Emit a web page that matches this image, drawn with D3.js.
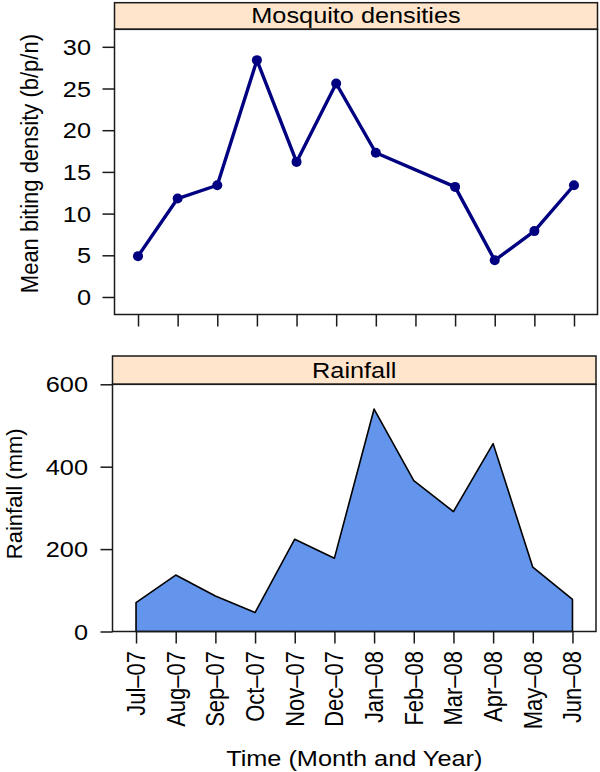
<!DOCTYPE html>
<html>
<head>
<meta charset="utf-8">
<script src="https://cdn.jsdelivr.net/npm/d3@7"></script>
<style>
  html, body { margin: 0; padding: 0; background: #fff; }
  svg { display: block; font-family: "Liberation Sans", Arial, Helvetica, sans-serif; }
</style>
</head>
<body>
<svg id="chart" width="600" height="772"></svg>
<script>
// ---- data ----
const months = ["Jul\u201307", "Aug\u201307", "Sep\u201307", "Oct\u201307", "Nov\u201307", "Dec\u201307",
                "Jan\u201308", "Feb\u201308", "Mar\u201308", "Apr\u201308", "May\u201308", "Jun\u201308"];
const density = [4.9, 11.8, 13.4, 28.4, 16.2, 25.6, 17.3, null, 13.2, 4.4, 7.9, 13.4];
const rainfall = [70, 137, 86, 46, 224, 178, 540, 366, 291, 456, 156, 78];
const densityTicks = [0, 5, 10, 15, 20, 25, 30];
const rainTicks = [0, 200, 400, 600];
const topTitle = "Mosquito densities";
const bottomTitle = "Rainfall";
const topYLabel = "Mean biting density (b/p/n)";
const bottomYLabel = "Rainfall (mm)";
const xLabel = "Time (Month and Year)";

// ---- layout ----
const SX = 1.15; // horizontal stretch of the original text
const svg = d3.select("#chart");
const border = "#1a1a1a";

function stext(g, x, y, str, size, anchor, rot, sx) {
  const s = sx == null ? SX : sx;
  return g.append("text")
    .attr("transform", `translate(${x},${y}) scale(${s},1)` + (rot ? ` rotate(${rot})` : ""))
    .attr("text-anchor", anchor)
    .attr("font-size", size)
    .attr("fill", "#000")
    .text(str);
}

// ---- top panel ----
const P1 = {left: 114.5, right: 597.5, stripTop: 2.7, top: 29.3, bottom: 314.5};
const x1 = d3.scalePoint().domain(months).range([P1.left, P1.right]).padding(0.593);
const y1 = d3.scaleLinear().domain([-2.1, 32.1]).range([P1.bottom, P1.top]);

const g1 = svg.append("g");
g1.append("rect").attr("x", P1.left).attr("y", P1.stripTop)
  .attr("width", P1.right - P1.left).attr("height", P1.top - P1.stripTop)
  .attr("fill", "#ffe5cc").attr("stroke", border).attr("stroke-width", 1.5);
stext(g1, (P1.left + P1.right) / 2, P1.top - 6.5, topTitle, 22, "middle");

const pts = months.map((m, i) => ({m, v: density[i]})).filter(d => d.v != null);
g1.append("path").datum(pts)
  .attr("fill", "none").attr("stroke", "#000080").attr("stroke-width", 3.4)
  .attr("stroke-linejoin", "round")
  .attr("d", d3.line().x(d => x1(d.m)).y(d => y1(d.v)));
g1.selectAll("circle").data(pts).join("circle")
  .attr("cx", d => x1(d.m)).attr("cy", d => y1(d.v)).attr("r", 5)
  .attr("fill", "#000080");

g1.append("rect").attr("x", P1.left).attr("y", P1.top)
  .attr("width", P1.right - P1.left).attr("height", P1.bottom - P1.top)
  .attr("fill", "none").attr("stroke", border).attr("stroke-width", 1.5);

// y axis top
const ax1 = g1.append("g").attr("transform", `translate(${P1.left},0)`)
  .call(d3.axisLeft(y1).tickValues(densityTicks).tickSize(12).tickSizeOuter(0).tickFormat(""));
ax1.select(".domain").remove();
ax1.selectAll(".tick line").attr("stroke", border).attr("stroke-width", 1.5);
densityTicks.forEach(t => stext(g1, 91, y1(t) + 8, String(t), 22, "end"));
// x ticks top (no labels)
const bx1 = g1.append("g").attr("transform", `translate(0,${P1.bottom})`)
  .call(d3.axisBottom(x1).tickSize(12).tickSizeOuter(0).tickFormat(""));
bx1.select(".domain").remove();
bx1.selectAll(".tick line").attr("stroke", border).attr("stroke-width", 1.5);

stext(g1, 38, (P1.stripTop + P1.bottom) / 2 + 5, topYLabel, 22, "middle", -90, 1.05);

// ---- bottom panel ----
const P2 = {left: 112.5, right: 596, stripTop: 356, top: 384.3, bottom: 631.5};
const x2 = d3.scalePoint().domain(months).range([P2.left, P2.right]).padding(0.593);
const y2 = d3.scaleLinear().domain([0, 600]).range([P2.bottom, P2.top]);

const g2 = svg.append("g");
g2.append("rect").attr("x", P2.left).attr("y", P2.stripTop)
  .attr("width", P2.right - P2.left).attr("height", P2.top - P2.stripTop)
  .attr("fill", "#ffe5cc").attr("stroke", border).attr("stroke-width", 1.5);
stext(g2, (P2.left + P2.right) / 2, P2.top - 6.5, bottomTitle, 22, "middle");

const rain = months.map((m, i) => ({m, v: rainfall[i]}));
g2.append("path").datum(rain)
  .attr("fill", "#6495ed").attr("stroke", "#000").attr("stroke-width", 1.6)
  .attr("stroke-linejoin", "round")
  .attr("d", d3.area().x(d => x2(d.m)).y0(y2(0)).y1(d => y2(d.v)));

g2.append("rect").attr("x", P2.left).attr("y", P2.top)
  .attr("width", P2.right - P2.left).attr("height", P2.bottom - P2.top)
  .attr("fill", "none").attr("stroke", border).attr("stroke-width", 1.5);

const ax2 = g2.append("g").attr("transform", `translate(${P2.left},0)`)
  .call(d3.axisLeft(y2).tickValues(rainTicks).tickSize(12).tickSizeOuter(0).tickFormat(""));
ax2.select(".domain").remove();
ax2.selectAll(".tick line").attr("stroke", border).attr("stroke-width", 1.5);
rainTicks.forEach(t => stext(g2, 88, y2(t) + 8, String(t), 22, "end"));

const bx2 = g2.append("g").attr("transform", `translate(0,${P2.bottom})`)
  .call(d3.axisBottom(x2).tickSize(12).tickSizeOuter(0).tickFormat(""));
bx2.select(".domain").remove();
bx2.selectAll(".tick line").attr("stroke", border).attr("stroke-width", 1.5);
months.forEach(m => {
  stext(g2, x2(m), 651, m, 22, "end", -90).attr("dy", "0.35em");
});

stext(g2, 22, (P2.stripTop + P2.bottom) / 2, bottomYLabel, 22, "middle", -90, 1.0);
stext(g2, (P2.left + P2.right) / 2, 766, xLabel, 22, "middle");
</script>
</body>
</html>
